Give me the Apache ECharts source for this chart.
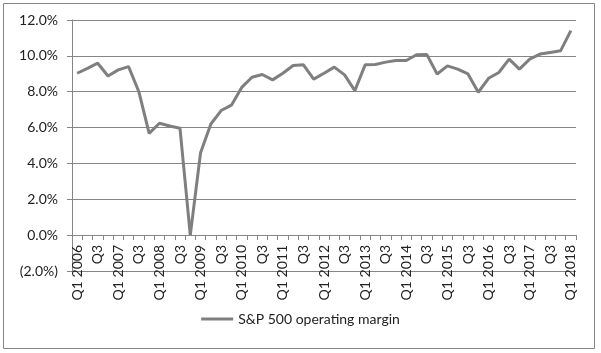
<!DOCTYPE html>
<html>
<head>
<meta charset="utf-8">
<script src="https://cdn.jsdelivr.net/npm/echarts@6/dist/echarts.min.js"></script>
<style>
  html, body { margin: 0; padding: 0; background: #fff; }
  #chart { width: 601px; height: 353px; }
</style>
</head>
<body>
<div id="chart"></div>
<script>
// quarters, Q1 2006 .. Q1 2018
const quarters = [
  'Q1 2006', 'Q2', 'Q3', 'Q4',
  'Q1 2007', 'Q2', 'Q3', 'Q4',
  'Q1 2008', 'Q2', 'Q3', 'Q4',
  'Q1 2009', 'Q2', 'Q3', 'Q4',
  'Q1 2010', 'Q2', 'Q3', 'Q4',
  'Q1 2011', 'Q2', 'Q3', 'Q4',
  'Q1 2012', 'Q2', 'Q3', 'Q4',
  'Q1 2013', 'Q2', 'Q3', 'Q4',
  'Q1 2014', 'Q2', 'Q3', 'Q4',
  'Q1 2015', 'Q2', 'Q3', 'Q4',
  'Q1 2016', 'Q2', 'Q3', 'Q4',
  'Q1 2017', 'Q2', 'Q3', 'Q4',
  'Q1 2018'
]

// S&P 500 operating margin, %
const margin = [
  9.03, 9.3, 9.59, 8.88,
  9.22, 9.4, 8.0, 5.68,
  6.24, 6.09, 5.96, 0.0,
  4.6, 6.2, 6.95, 7.25,
  8.24, 8.81, 8.96, 8.66,
  9.03, 9.46, 9.5, 8.7,
  9.03, 9.37, 8.94, 8.06,
  9.5, 9.52, 9.65, 9.74,
  9.74, 10.06, 10.07, 8.99,
  9.44, 9.26, 8.99, 7.97,
  8.75, 9.07, 9.82, 9.26,
  9.82, 10.1, 10.19, 10.28,
  11.41
]

const seriesName = 'S&P 500 operating margin'

const chart = echarts.init(document.getElementById('chart'))
chart.setOption({
  animation: false,
  textStyle: { fontFamily: 'Lato' },
  graphic: [{
    type: 'rect',
    shape: { x: 3.5, y: 3.5, width: 591, height: 345 },
    style: { fill: 'none', stroke: '#868686', lineWidth: 1 },
    silent: true
  }],
  grid: { left: 72, right: 25, top: 20, bottom: 82 },
  legend: {
    bottom: 22,
    left: 'center',
    itemWidth: 32,
    itemHeight: 12,
    itemGap: 4,
    textStyle: { fontSize: 14, color: '#222', fontFamily: 'Lato' },
    data: [{ name: seriesName, icon: 'path://M0,5 L32,5 L32,8 L0,8 Z' }]
  },
  xAxis: {
    type: 'category',
    data: quarters,
    boundaryGap: true,
    // axis sits on the 0% line, labels hang over the (2.0%) gridline
    offset: -36,
    axisLine: { onZero: false, lineStyle: { color: '#868686', width: 1 } },
    axisTick: { show: true, interval: 0, length: 5, lineStyle: { color: '#868686' } },
    axisLabel: {
      interval: 1,
      rotate: 90,
      margin: 10,
      fontSize: 14,
      color: '#222',
      fontFamily: 'Lato'
    }
  },
  yAxis: {
    type: 'value',
    min: -2,
    max: 12,
    interval: 2,
    axisLine: { show: true, lineStyle: { color: '#868686', width: 1 } },
    axisTick: { show: true, length: 5, lineStyle: { color: '#868686' } },
    splitLine: { lineStyle: { color: '#868686', width: 1 } },
    axisLabel: {
      margin: 14,
      fontSize: 14,
      color: '#222',
      fontFamily: 'Lato',
      formatter: v => v < 0 ? '(' + Math.abs(v).toFixed(1) + '%)' : v.toFixed(1) + '%'
    }
  },
  series: [{
    name: seriesName,
    type: 'line',
    data: margin,
    showSymbol: false,
    symbol: 'none',
    lineStyle: { color: '#7f7f7f', width: 3 },
    itemStyle: { color: '#7f7f7f' }
  }]
})
</script>
</body>
</html>
